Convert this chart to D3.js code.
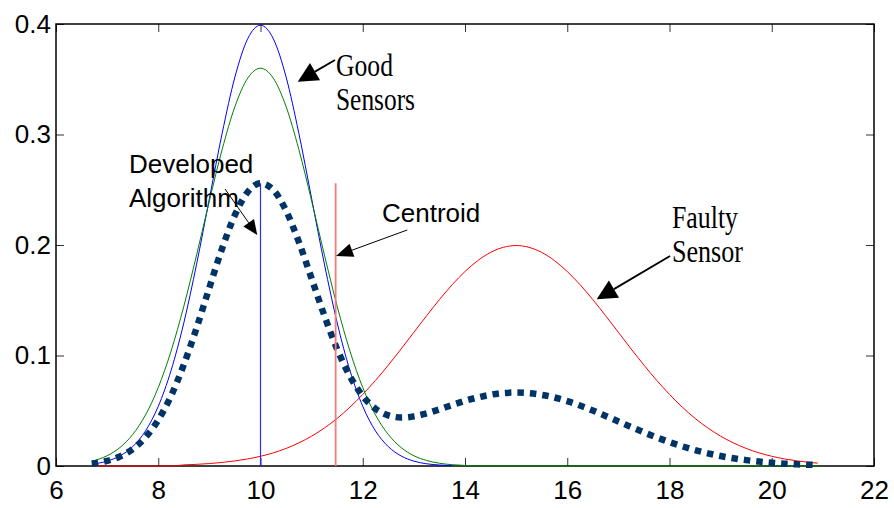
<!DOCTYPE html>
<html>
<head>
<meta charset="utf-8">
<script src="https://cdn.jsdelivr.net/npm/d3@7"></script>
<style>
  html, body { margin: 0; padding: 0; background: #fff; }
  svg { display: block; }
</style>
</head>
<body>
<svg id="chart" width="894" height="508"></svg>
<script>
// Sample positions along the sensor reading axis
const xs = [6.7, 7, 7.25, 7.5, 7.75, 8, 8.25, 8.5, 8.75, 9, 9.25, 9.5, 9.75, 10,
  10.25, 10.5, 10.75, 11, 11.25, 11.5, 11.75, 12, 12.25, 12.5, 12.75, 13, 13.25, 13.5, 13.75,
  14, 14.25, 14.5, 14.75, 15, 15.25, 15.5, 15.75, 16, 16.25, 16.5, 16.75, 17, 17.25, 17.5, 17.75,
  18, 18.25, 18.5, 18.75, 19, 19.25, 19.5, 19.75, 20, 20.25, 20.5, 20.75, 20.9];

// Good sensor #1 (blue), defined over the first part of xs
const goodSensorBlue = [0.0017, 0.0044, 0.0091, 0.0175, 0.0317, 0.0540, 0.0863, 0.1295, 0.1827,
  0.2420, 0.3011, 0.3521, 0.3867, 0.3989, 0.3867, 0.3521, 0.3011, 0.2420, 0.1827, 0.1295, 0.0863,
  0.0540, 0.0317, 0.0175, 0.0091, 0.0044, 0.0020, 0.0009, 0.0003];

// Good sensor #2 (green)
const goodSensorGreen = [0.0043, 0.0093, 0.0167, 0.0285, 0.0461, 0.0710, 0.1039, 0.1445, 0.1910,
  0.2399, 0.2865, 0.3253, 0.3510, 0.3600, 0.3510, 0.3253, 0.2865, 0.2399, 0.1910, 0.1445, 0.1039,
  0.0710, 0.0461, 0.0285, 0.0167, 0.0093, 0.0050, 0.0025, 0.0012, 0.0005, 0.0002,
  0, 0, 0, 0, 0, 0, 0, 0, 0, 0, 0, 0, 0, 0, 0, 0, 0, 0, 0, 0, 0, 0, 0, 0, 0, 0, 0];

// Faulty sensor (red)
const faultySensor = [0, 0, 0, 0, 0, 0, 0, 0.0010, 0.0015, 0.0022, 0.0032, 0.0046, 0.0064, 0.0088,
  0.0119, 0.0159, 0.0209, 0.0270, 0.0344, 0.0431, 0.0533, 0.0648, 0.0775, 0.0913, 0.1059, 0.1210,
  0.1360, 0.1506, 0.1641, 0.1760, 0.1859, 0.1933, 0.1979, 0.1995, 0.1979, 0.1933, 0.1859, 0.1760,
  0.1641, 0.1506, 0.1360, 0.1210, 0.1059, 0.0913, 0.0775, 0.0648, 0.0533, 0.0431, 0.0344, 0.0270,
  0.0209, 0.0159, 0.0119, 0.0088, 0.0064, 0.0046, 0.0032, 0.0026];

// Fused estimate from the developed algorithm (dotted)
const developedAlgorithm = [0.0020, 0.0046, 0.0086, 0.0153, 0.0260, 0.0417, 0.0634, 0.0917, 0.1250,
  0.1614, 0.1970, 0.2273, 0.2480, 0.2559, 0.2499, 0.2311, 0.2028, 0.1696, 0.1360, 0.1057, 0.0812,
  0.0633, 0.0518, 0.0458, 0.0439, 0.0449, 0.0477, 0.0513, 0.0552, 0.0589, 0.0621, 0.0645, 0.0660,
  0.0665, 0.0660, 0.0644, 0.0620, 0.0587, 0.0547, 0.0502, 0.0453, 0.0403, 0.0353, 0.0304, 0.0258,
  0.0216, 0.0178, 0.0144, 0.0115, 0.0090, 0.0070, 0.0053, 0.0040, 0.0029, 0.0021, 0.0015, 0.0011,
  0.0009];

// Vertical markers: algorithm estimate and centroid
const algorithmEstimateX = 10;
const centroidX = 11.47;
const markerHeight = 0.2559;

const xTicks = [6, 8, 10, 12, 14, 16, 18, 20, 22];
const yTicks = [0, 0.1, 0.2, 0.3, 0.4];

// Annotation labels (positions in data units)
const labels = [
  { lines: ["Good", "Sensors"], x: 11.477, y: 0.3529, serif: true, widths: [57, 79] },
  { lines: ["Developed", "Algorithm"], x: 7.428, y: 0.2652, serif: false },
  { lines: ["Centroid"], x: 12.377, y: 0.2208, serif: false },
  { lines: ["Faulty", "Sensor"], x: 18.049, y: 0.2154, serif: true, widths: [66, 71] }
];
const arrows = [
  { from: [11.457, 0.3674], to: [10.728, 0.3478], head: 20, half: 10, w: 1.8 },
  { from: [9.306, 0.2507], to: [9.937, 0.2090], head: 15, half: 6.5, w: 1 },
  { from: [12.871, 0.2136], to: [11.477, 0.1900], head: 17, half: 7, w: 1 },
  { from: [18.010, 0.1900], to: [16.576, 0.1509], head: 20, half: 10, w: 1.8 }
];

const svg = d3.select("#chart");
const x = d3.scaleLinear().domain([6, 22]).range([56, 874]);
const y = d3.scaleLinear().domain([0, 0.4]).range([466, 24]);

const sansFont = "'Liberation Sans', Arial, sans-serif";
const serifFont = "'Liberation Serif', 'Times New Roman', serif";

// Axes with inward ticks on all four sides
function styleAxis(g) {
  g.select(".domain").remove();
  g.selectAll(".tick line").attr("stroke", "#333").attr("stroke-width", 1);
  g.selectAll(".tick text")
    .attr("fill", "#000")
    .style("font-family", sansFont)
    .style("font-size", "26px");
}

svg.append("g")
  .attr("transform", `translate(0,${y(0)})`)
  .call(d3.axisBottom(x).tickValues(xTicks).tickSize(-8).tickPadding(15).tickFormat(d => String(d)))
  .call(styleAxis);

svg.append("g")
  .attr("transform", `translate(0,${y(0.4)})`)
  .call(d3.axisTop(x).tickValues(xTicks).tickSize(-8).tickFormat(""))
  .call(styleAxis);

svg.append("g")
  .attr("transform", `translate(${x(6)},0)`)
  .call(d3.axisLeft(y).tickValues(yTicks).tickSize(-8).tickPadding(5).tickFormat(d => String(d)))
  .call(styleAxis);

svg.append("g")
  .attr("transform", `translate(${x(22)},0)`)
  .call(d3.axisRight(y).tickValues(yTicks).tickSize(-8).tickFormat(""))
  .call(styleAxis);

// Plot frame
svg.append("rect")
  .attr("x", x(6)).attr("y", y(0.4))
  .attr("width", x(22) - x(6)).attr("height", y(0) - y(0.4))
  .attr("fill", "none").attr("stroke", "#000").attr("stroke-width", 1.5);

const line = d3.line()
  .x(d => x(d[0]))
  .y(d => y(d[1]))
  .curve(d3.curveMonotoneX);

const pairs = vals => vals.map((v, i) => [xs[i], v]);

const series = [
  { values: faultySensor, color: "#ff0000", width: 1 },
  { values: goodSensorBlue, color: "#0000ff", width: 1 },
  { values: goodSensorGreen, color: "#008000", width: 1 }
];

svg.append("g").selectAll("path")
  .data(series)
  .join("path")
  .attr("d", s => line(pairs(s.values)))
  .attr("fill", "none")
  .attr("stroke", s => s.color)
  .attr("stroke-width", s => s.width);

// Developed algorithm: heavy dotted curve
svg.append("path")
  .attr("d", line(pairs(developedAlgorithm)))
  .attr("fill", "none")
  .attr("stroke", "#003366")
  .attr("stroke-width", 6.5)
  .attr("stroke-dasharray", "6.5,6")
  .attr("stroke-linecap", "butt");

// Vertical markers
svg.append("line")
  .attr("x1", x(algorithmEstimateX)).attr("x2", x(algorithmEstimateX))
  .attr("y1", y(0)).attr("y2", y(markerHeight))
  .attr("stroke", "#2a2aff").attr("stroke-width", 1.2);

svg.append("line")
  .attr("x1", x(centroidX)).attr("x2", x(centroidX))
  .attr("y1", y(0)).attr("y2", y(markerHeight))
  .attr("stroke", "#f47a7a").attr("stroke-width", 1.8);

// Annotation arrows with filled triangular heads
const arrowG = svg.append("g");
arrows.forEach(a => {
  const x0 = x(a.from[0]), y0 = y(a.from[1]);
  const x1 = x(a.to[0]), y1 = y(a.to[1]);
  const len = Math.hypot(x1 - x0, y1 - y0);
  const ux = (x1 - x0) / len, uy = (y1 - y0) / len;
  const bx = x1 - ux * a.head, by = y1 - uy * a.head;
  const nx = -uy, ny = ux;
  arrowG.append("line")
    .attr("x1", x0).attr("y1", y0).attr("x2", bx).attr("y2", by)
    .attr("stroke", "#000").attr("stroke-width", a.w);
  arrowG.append("path")
    .attr("d", `M${x1},${y1}L${bx + nx * a.half},${by + ny * a.half}L${bx - nx * a.half},${by - ny * a.half}Z`)
    .attr("fill", "#000");
});

// Annotation text
const lineGap = 34;
labels.forEach(l => {
  l.lines.forEach((t, i) => {
    const tx = x(l.x), ty = y(l.y) + i * lineGap;
    const txt = svg.append("text").text(t).attr("fill", "#000");
    if (l.serif) {
      txt.attr("x", tx).attr("y", ty)
        .attr("textLength", l.widths[i])
        .attr("lengthAdjust", "spacingAndGlyphs")
        .style("font-family", serifFont)
        .style("font-size", "31px");
    } else {
      txt.attr("x", tx).attr("y", ty)
        .style("font-family", sansFont)
        .style("font-size", "26px");
    }
  });
});
</script>
</body>
</html>
